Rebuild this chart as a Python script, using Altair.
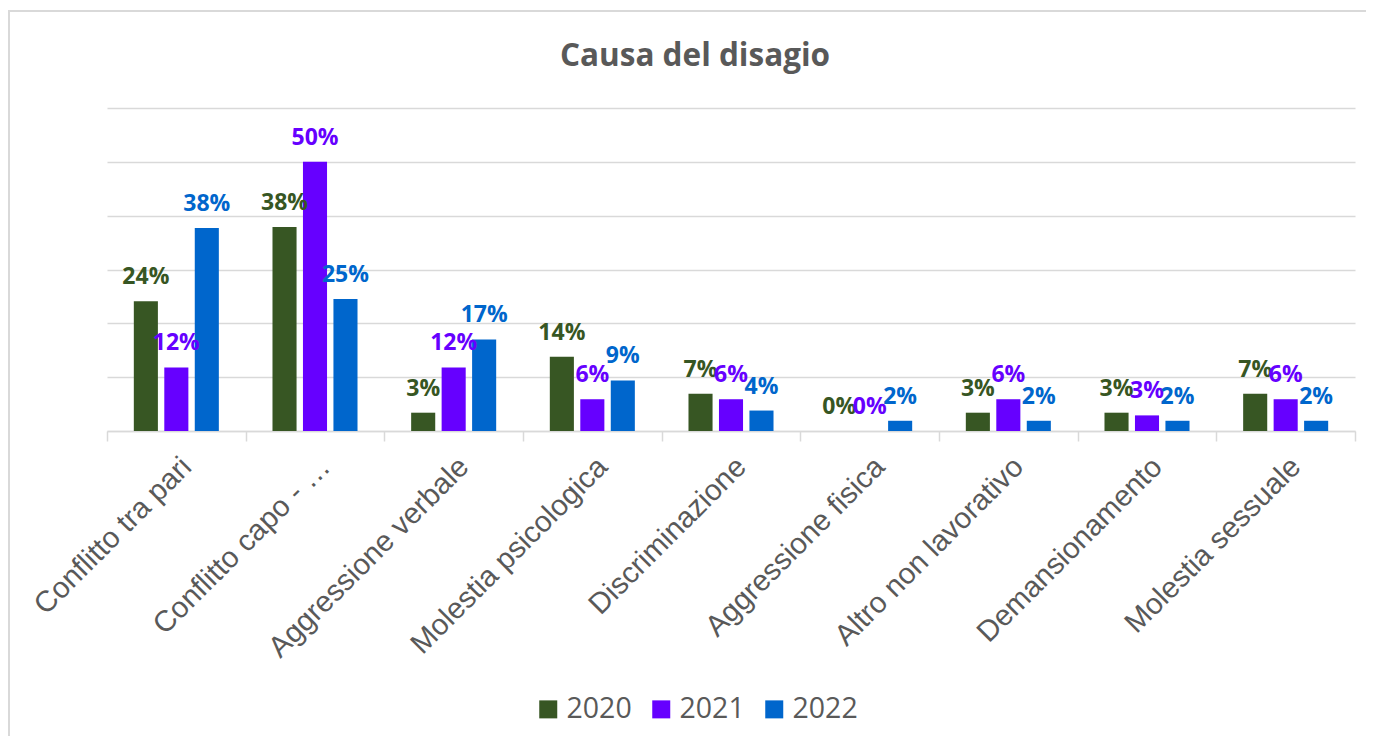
import altair as alt
import pandas as pd

categories = ["Conflitto tra pari", "Conflitto capo - …", "Aggressione verbale",
              "Molestia psicologica", "Discriminazione", "Aggressione fisica",
              "Altro non lavorativo", "Demansionamento", "Molestia sessuale"]
years = ["2020", "2021", "2022"]
v2020 = [0.241, 0.379, 0.034, 0.138, 0.069, 0.0, 0.034, 0.034, 0.069]
v2021 = [0.118, 0.500, 0.118, 0.059, 0.059, 0.0, 0.059, 0.029, 0.059]
v2022 = [0.377, 0.2453, 0.170, 0.094, 0.038, 0.019, 0.019, 0.019, 0.019]
colors = ["#375623", "#6600FF", "#0066CC"]

rows = []
for y, vals in zip(years, [v2020, v2021, v2022]):
    for c, v in zip(categories, vals):
        rows.append({"cat": c, "year": y, "value": v})
df = pd.DataFrame(rows)

W, H = 1248, 323

x = alt.X("cat:N", sort=categories, title=None,
          scale=alt.Scale(paddingInner=0, paddingOuter=0),
          axis=alt.Axis(labelAngle=-45, labelFont="Liberation Sans", labelFontSize=29.5,
                        labelColor="#595959", tickBand="extent", tickSize=10,
                        tickColor="#d9d9d9", domainColor="#d9d9d9", domainWidth=1.5,
                        tickWidth=1.5, labelPadding=11, grid=False, labelLimit=400))
xo = alt.XOffset("year:N", sort=years,
                 scale=alt.Scale(paddingInner=0.21, paddingOuter=0.88))
y = alt.Y("value:Q", title=None,
          scale=alt.Scale(domain=[0, 0.6], nice=False),
          axis=alt.Axis(values=[0, 0.1, 0.2, 0.3, 0.4, 0.5, 0.6], labels=False,
                        ticks=False, domain=False, gridColor="#d9d9d9", gridWidth=1.5))
color = alt.Color("year:N", sort=years, title=None,
                  scale=alt.Scale(domain=years, range=colors),
                  legend=alt.Legend(orient="none", legendX=427, legendY=587,
                                    direction="horizontal", symbolType="square",
                                    symbolSize=324, symbolStrokeWidth=0,
                                    labelFont="Open Sans", labelFontSize=28.5,
                                    labelColor="#595959", labelOffset=4,
                                    columnPadding=15))

bars = alt.Chart(df).mark_bar().encode(x=x, xOffset=xo, y=y, color=color)
labels = alt.Chart(df).mark_text(dy=-17, baseline="alphabetic", font="Open Sans",
                                 fontWeight="bold", fontSize=23).encode(
    x=x, xOffset=xo, y=y, color=color,
    text=alt.Text("value:Q", format=".0%"))

frame = alt.Chart(pd.DataFrame({"f": [0]})).mark_rect(
    filled=False, stroke="#d9d9d9", strokeWidth=2).encode(
    x=alt.value(-98), x2=alt.value(1400), y=alt.value(-97), y2=alt.value(800))

chart = alt.layer(frame, bars, labels).properties(
    width=W, height=H,
    title=alt.Title("Causa del disagio", font="Open Sans", fontSize=31.5,
                    fontWeight="bold", color="#595959", anchor="middle",
                    dx=-36, offset=-87, baseline="alphabetic"),
    autosize=alt.AutoSizeParams(type="none"),
    padding={"left": 99, "top": 100, "right": 11, "bottom": 305},
).configure(background="white").configure_view(stroke=None)

chart.save("out.html", embed_options={"renderer": "svg", "actions": False})
